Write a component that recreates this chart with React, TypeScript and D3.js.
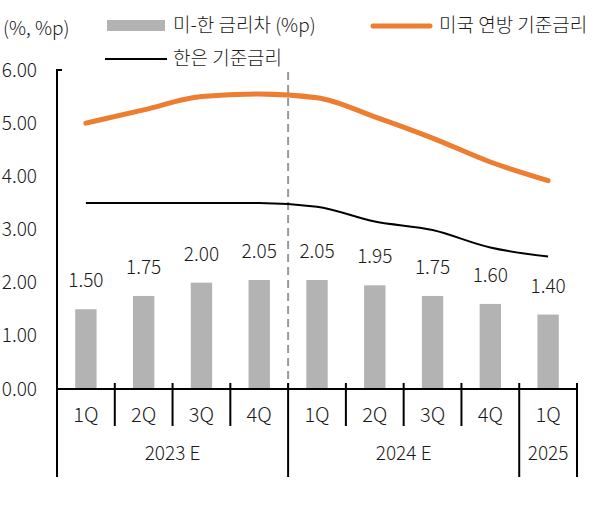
import { useEffect, useRef } from "react";
import * as d3 from "d3";

const quarters = ["1Q", "2Q", "3Q", "4Q", "1Q", "2Q", "3Q", "4Q", "1Q"];
const years = [
    { label: "2023 E", from: 0, to: 3 },
    { label: "2024 E", from: 4, to: 7 },
    { label: "2025", from: 8, to: 8 },
];
const spread = [1.5, 1.75, 2.0, 2.05, 2.05, 1.95, 1.75, 1.6, 1.4];
const usRate = [5.0, 5.25, 5.5, 5.55, 5.48, 5.12, 4.72, 4.27, 3.92];
const krRate = [3.5, 3.5, 3.5, 3.5, 3.43, 3.15, 2.99, 2.66, 2.49];
const yTicks = [0, 1, 2, 3, 4, 5, 6];

const FONT = "'Noto Sans CJK KR', 'Noto Sans', sans-serif";
const TEXT = "#1a1a1a";

export default function App() {
    const svgRef = useRef<SVGSVGElement>(null);

    useEffect(() => {
        if (!svgRef.current) return;
        const width = 594;
        const height = 506;
        const left = 57;
        const right = 577;
        const top = 70;
        const bottom = 389;

        const svg = d3.select(svgRef.current);
        svg.selectAll("*").remove();
        svg.attr("width", width).attr("height", height);

        const idx = quarters.map((_, i) => String(i));
        const x = d3.scaleBand().domain(idx).range([left, right]).padding(0);
        const y = d3.scaleLinear().domain([0, 6]).range([bottom, top]);
        const cx = (i: number) => (x(String(i)) as number) + x.bandwidth() / 2;
        const barW = x.bandwidth() * 0.37;

        const label = (sel: d3.Selection<SVGTextElement, any, any, any>, size = 19) =>
            sel
                .style("font-family", FONT)
                .style("font-size", `${size}px`)
                .style("font-weight", 300)
                .style("fill", TEXT);

        // bars
        svg.selectAll(".bar")
            .data(spread)
            .enter()
            .append("rect")
            .attr("x", (d, i) => cx(i) - barW / 2)
            .attr("y", (d) => y(d))
            .attr("width", barW)
            .attr("height", (d) => bottom - y(d))
            .style("fill", "#b3b3b3");

        // bar labels
        svg.selectAll(".bar-label")
            .data(spread)
            .enter()
            .append("text")
            .attr("x", (d, i) => cx(i))
            .attr("y", (d) => y(d) - 22)
            .attr("text-anchor", "middle")
            .call(label)
            .text((d) => d.toFixed(2));

        // dashed divider between 2023 and 2024
        const divX = x("4") as number;
        svg.append("line")
            .attr("x1", divX)
            .attr("x2", divX)
            .attr("y1", top + 2)
            .attr("y2", bottom)
            .style("stroke", "#999")
            .style("stroke-width", 2)
            .style("stroke-dasharray", "8,5");

        const line = d3
            .line<number>()
            .x((d, i) => cx(i))
            .y((d) => y(d))
            .curve(d3.curveMonotoneX);

        svg.append("path")
            .datum(usRate)
            .attr("d", line)
            .style("fill", "none")
            .style("stroke", "#ed7d31")
            .style("stroke-width", 5)
            .style("stroke-linecap", "round");

        svg.append("path")
            .datum(krRate)
            .attr("d", line)
            .style("fill", "none")
            .style("stroke", "#000")
            .style("stroke-width", 2);

        // y axis
        svg.append("line")
            .attr("x1", left)
            .attr("x2", left)
            .attr("y1", top)
            .attr("y2", 477)
            .style("stroke", "#000")
            .style("stroke-width", 2);
        svg.append("line")
            .attr("x1", left - 1)
            .attr("x2", left + 5)
            .attr("y1", top)
            .attr("y2", top)
            .style("stroke", "#000")
            .style("stroke-width", 2);

        svg.selectAll(".y-label")
            .data(yTicks)
            .enter()
            .append("text")
            .attr("x", 37)
            .attr("y", (d) => y(d))
            .attr("dy", "0.35em")
            .attr("text-anchor", "end")
            .call(label)
            .text((d) => d.toFixed(2));

        // x axis
        svg.append("line")
            .attr("x1", left)
            .attr("x2", right)
            .attr("y1", bottom)
            .attr("y2", bottom)
            .style("stroke", "#000")
            .style("stroke-width", 2);

        const boundaries = d3.range(quarters.length + 1);
        const longTicks = new Set<number>([0, 4, 8, 9]);
        svg.selectAll(".x-tick")
            .data(boundaries)
            .enter()
            .append("line")
            .attr("x1", (d) => left + d * x.step())
            .attr("x2", (d) => left + d * x.step())
            .attr("y1", bottom - 6)
            .attr("y2", (d) => (longTicks.has(d) ? 477 : 426))
            .style("stroke", "#000")
            .style("stroke-width", 2);

        svg.selectAll(".q-label")
            .data(quarters)
            .enter()
            .append("text")
            .attr("x", (d, i) => cx(i))
            .attr("y", 415)
            .attr("dy", "0.35em")
            .attr("text-anchor", "middle")
            .call(label, 20)
            .text((d) => d);

        svg.selectAll(".year-label")
            .data(years)
            .enter()
            .append("text")
            .attr("x", (d) => ((x(String(d.from)) as number) + (x(String(d.to)) as number) + x.bandwidth()) / 2)
            .attr("y", 453)
            .attr("dy", "0.35em")
            .attr("text-anchor", "middle")
            .call(label)
            .text((d) => d.label);

        // unit + legend
        svg.append("text")
            .attr("x", 3)
            .attr("y", 28)
            .attr("dy", "0.35em")
            .call(label)
            .text("(%, %p)");

        svg.append("rect")
            .attr("x", 107)
            .attr("y", 20)
            .attr("width", 58)
            .attr("height", 11)
            .style("fill", "#b3b3b3");
        svg.append("text")
            .attr("x", 173)
            .attr("y", 25)
            .attr("dy", "0.35em")
            .call(label)
            .text("미-한 금리차 (%p)");

        svg.append("line")
            .attr("x1", 373)
            .attr("x2", 430)
            .attr("y1", 26)
            .attr("y2", 26)
            .style("stroke", "#ed7d31")
            .style("stroke-width", 5)
            .style("stroke-linecap", "round");
        svg.append("text")
            .attr("x", 439)
            .attr("y", 25)
            .attr("dy", "0.35em")
            .call(label)
            .text("미국 연방 기준금리");

        svg.append("line")
            .attr("x1", 105)
            .attr("x2", 167)
            .attr("y1", 59)
            .attr("y2", 59)
            .style("stroke", "#000")
            .style("stroke-width", 2);
        svg.append("text")
            .attr("x", 173)
            .attr("y", 58)
            .attr("dy", "0.35em")
            .call(label)
            .text("한은 기준금리");
    }, []);

    return (
        <svg
            ref={svgRef}
            style={{ position: "absolute", left: 0, top: 0, background: "#fff" }}
        ></svg>
    );
}
